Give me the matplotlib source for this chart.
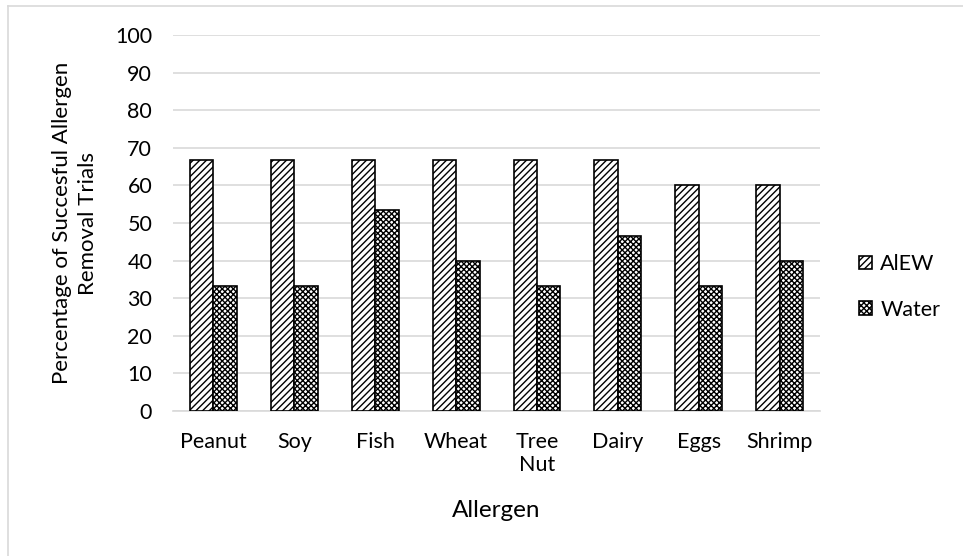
import matplotlib
matplotlib.use("Agg")
import matplotlib.pyplot as plt
import numpy as np
from matplotlib.lines import Line2D

categories = ["Peanut", "Soy", "Fish", "Wheat", "Tree\nNut", "Dairy", "Eggs", "Shrimp"]
alew = [66.67, 66.67, 66.67, 66.67, 66.67, 66.67, 60.0, 60.0]
water = [33.33, 33.33, 53.33, 40.0, 33.33, 46.67, 33.33, 40.0]
series_names = ["AlEW", "Water"]

plt.rcParams['font.family'] = ['Lato', 'DejaVu Sans']
plt.rcParams['hatch.linewidth'] = 1.0

fig = plt.figure(figsize=(9.63, 5.56), dpi=100)
ax = fig.add_axes([0.1797, 0.2608, 0.8515 - 0.1797, 0.937 - 0.2608])

x = np.arange(len(categories))
w = 0.29
ax.bar(x - w / 2, alew, w, facecolor='white', edgecolor='black', linewidth=1.2,
       hatch='/////', label=series_names[0], zorder=3)
ax.bar(x + w / 2, water, w, facecolor='white', edgecolor='black', linewidth=1.2,
       hatch='xxxxxx', label=series_names[1], zorder=3)

ax.set_xlim(-0.5, len(categories) - 0.5)
ax.set_ylim(0, 100)
ax.set_yticks(np.arange(0, 101, 10))
ax.yaxis.grid(True, color='#D9D9D9', linewidth=1.2, zorder=0)
ax.set_axisbelow(True)
for s in ['top', 'right', 'left']:
    ax.spines[s].set_visible(False)
ax.spines['bottom'].set_color('#D9D9D9')
ax.spines['bottom'].set_linewidth(1.2)
ax.tick_params(axis='both', length=0, labelsize=15.5, colors='black')
ax.tick_params(axis='y', pad=15)
ax.tick_params(axis='x', pad=15)
ax.set_xticks(x)
ax.set_xticklabels(categories, linespacing=1.2)
ax.set_xlabel("Allergen", fontsize=17.5, labelpad=18)
ax.set_ylabel("Percentage of Succesful Allergen\nRemoval Trials", fontsize=16, labelpad=12, linespacing=1.4)

ax.legend(loc='center left', bbox_to_anchor=(1.03, 0.33), frameon=False,
          fontsize=15.5, handlelength=0.6, handleheight=0.6, handletextpad=0.4,
          labelspacing=1.2)

# figure border
fig.add_artist(Line2D([0.0078, 0.0078], [0, 1 - 6 / 556], color='#D9D9D9', linewidth=1.2, transform=fig.transFigure))
fig.add_artist(Line2D([0.0078, 1], [1 - 6 / 556, 1 - 6 / 556], color='#D9D9D9', linewidth=1.2, transform=fig.transFigure))

fig.savefig("out.png", dpi=100)
